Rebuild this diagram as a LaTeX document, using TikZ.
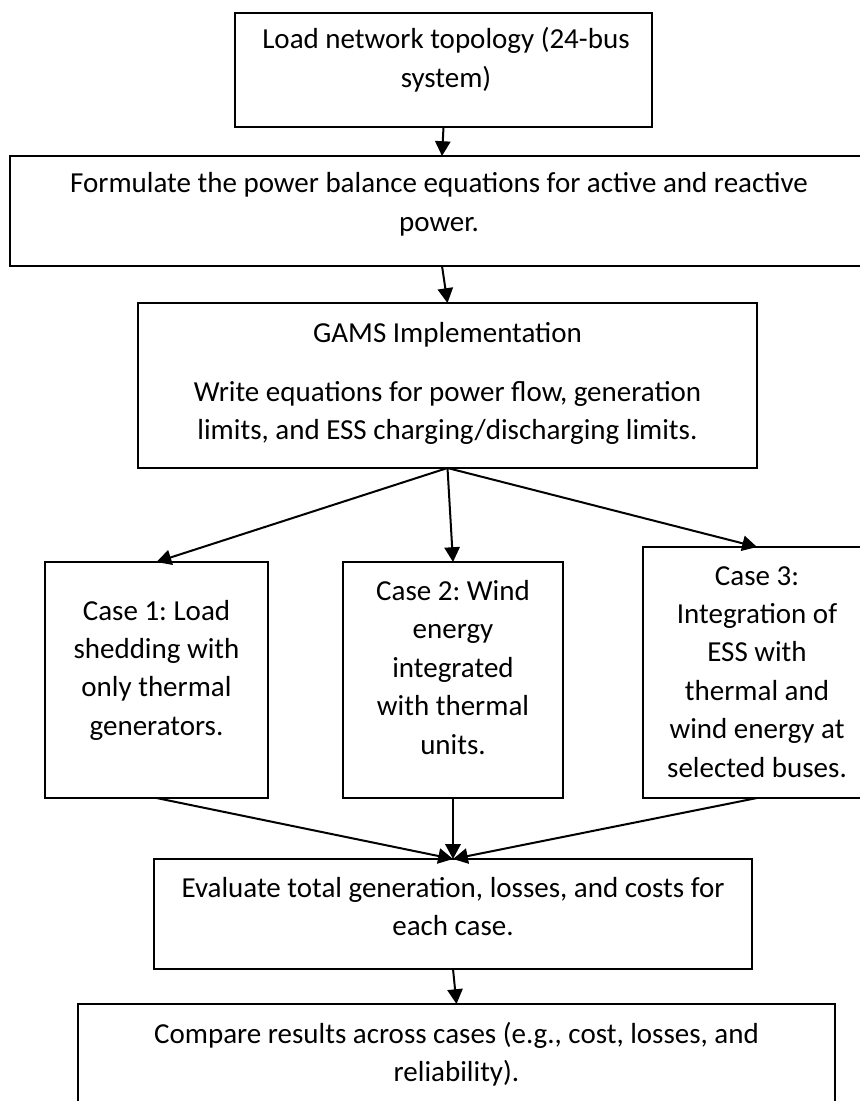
\documentclass[tikz,border=0pt]{standalone}
\usepackage{fontspec}
\setmainfont{Carlito}
\usetikzlibrary{arrows.meta}
\frenchspacing
\def\pxu{0.37931pt}
\tikzset{
  box/.style={draw, rectangle, line width=0.76pt, inner sep=0pt, outer sep=0pt},
  arr/.style={line width=0.76pt, -{Triangle[length=5.6pt,width=5.8pt]}},
  txt/.style={font=\fontsize{11pt}{14.57pt}\selectfont, align=flush center, text width=300pt, anchor=base, inner sep=0pt}
}
\begin{document}
\begin{tikzpicture}[x=0.37931pt, y=-0.37931pt]
\useasboundingbox (0,0) rectangle (860,1101);
\fill[white] (0,0) rectangle (860,1101);
\clip (0,0) rectangle (860,1101);
% boxes
\node[box, minimum width=417*\pxu, minimum height=114*\pxu] (b1) at (443.5,70) {};
\node[box, minimum width=864*\pxu, minimum height=110*\pxu] (b2) at (442,211) {};
\node[box, minimum width=619*\pxu, minimum height=165*\pxu] (b3) at (447.5,385.5) {};
\node[box, minimum width=223*\pxu, minimum height=236*\pxu] (c1) at (156.5,680) {};
\node[box, minimum width=220*\pxu, minimum height=236*\pxu] (c2) at (453,680) {};
\node[box, minimum width=228*\pxu, minimum height=251*\pxu] (c3) at (757,672.5) {};
\node[box, minimum width=598*\pxu, minimum height=110*\pxu] (b7) at (453,914) {};
\node[box, minimum width=757*\pxu, minimum height=110*\pxu] (b8) at (456.5,1059) {};
% texts
\node[txt] (t1) at (446,49) {Load network topology (24-bus\\system)};
\node[txt] (t2) at (439,193) {Formulate the power balance equations for active and reactive\\power.};
\node[txt] (t3) at (447.5,342) {GAMS Implementation\\[8pt]Write equations for power flow, generation\\limits, and ESS charging/discharging limits.};
\node[txt] (tc1) at (156.5,620) {Case 1: Load\\shedding with\\only thermal\\generators.};
\node[txt] (tc2) at (453,600.5) {Case 2: Wind\\energy\\integrated\\with thermal\\units.};
\node[txt] (tc3) at (757,585) {Case 3:\\Integration of\\ESS with\\thermal and\\wind energy at\\selected buses.};
\node[txt] (t7) at (453,897) {Evaluate total generation, losses, and costs for\\each case.};
\node[txt] (t8) at (456.5,1043) {Compare results across cases (e.g., cost, losses, and\\reliability).};
% connectors
\draw[arr] (b1.south) -- (b2.north);
\draw[arr] (b2.south) -- (b3.north);
\draw[arr] (b3.south) -- (c1.north);
\draw[arr] (b3.south) -- (c2.north);
\draw[arr] (b3.south) -- (c3.north);
\draw[arr] (c1.south) -- (b7.north);
\draw[arr] (c2.south) -- (b7.north);
\draw[arr] (c3.south) -- (b7.north);
\draw[arr] (b7.south) -- (b8.north);
\end{tikzpicture}
\end{document}
